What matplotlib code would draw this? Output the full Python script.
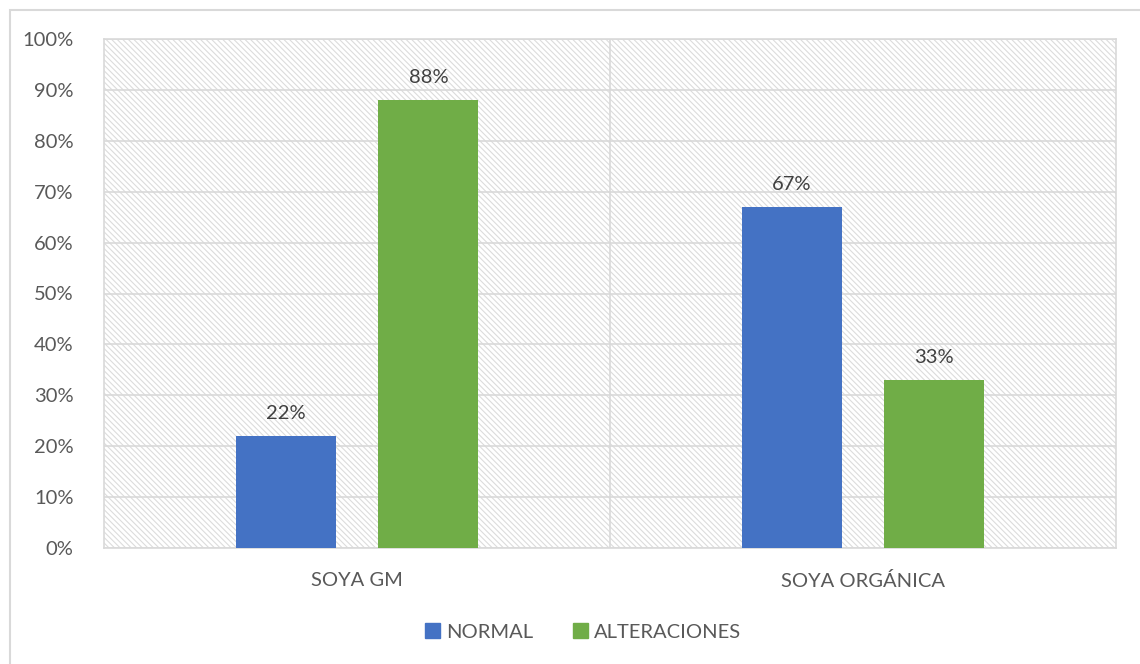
import matplotlib
matplotlib.use("Agg")
import matplotlib.pyplot as plt
from matplotlib.patches import Rectangle, Patch
import numpy as np

categories = ["SOYA GM", "SOYA ORGÁNICA"]
normal = [22, 67]
alteraciones = [88, 33]
yticks = [0, 10, 20, 30, 40, 50, 60, 70, 80, 90, 100]

TEXT = "#595959"
LABEL = "#404040"
GRID = "#d9d9d9"
BLUE = "#4472C4"
GREEN = "#70AD47"

plt.rcParams["font.family"] = ["Lato", "DejaVu Sans"]
plt.rcParams["hatch.linewidth"] = 0.8

fig = plt.figure(figsize=(11.4, 6.64), dpi=100)
ax = fig.add_axes([104 / 1140, 1 - 548 / 664, (1116 - 104) / 1140, (548 - 39) / 664])

# outer chart border
fig.patches.append(Rectangle((10 / 1140, -0.1), 1.2, 1 - 10 / 664 + 0.1,
                             transform=fig.transFigure, fill=False,
                             edgecolor=GRID, linewidth=1.5, zorder=0))

# hatched plot-area background
ax.add_patch(Rectangle((0, 0), 1, 1, transform=ax.transAxes, fill=False,
                       hatch="\\\\\\\\\\\\", edgecolor="#dcdcdc", linewidth=0, zorder=0))

x = np.arange(len(categories))
w = 0.198
off = 0.141
ax.bar(x - off, normal, w, color=BLUE, zorder=3, label="NORMAL")
ax.bar(x + off, alteraciones, w, color=GREEN, zorder=3, label="ALTERACIONES")

for xi, v in zip(x - off, normal):
    ax.text(xi, v + 2.7, f"{v}%", ha="center", va="bottom", fontsize=14.5, color=LABEL)
for xi, v in zip(x + off, alteraciones):
    ax.text(xi, v + 2.7, f"{v}%", ha="center", va="bottom", fontsize=14.5, color=LABEL)

ax.set_xlim(-0.5, 1.5)
ax.set_ylim(0, 100)
ax.set_yticks(yticks)
ax.set_yticklabels([f"{t}%" for t in yticks])
ax.set_xticks(x)
ax.set_xticklabels(categories)
ax.tick_params(axis="both", length=0, labelsize=14.5, colors=TEXT)
ax.tick_params(axis="y", pad=22)
ax.tick_params(axis="x", pad=17)

ax.grid(axis="y", color=GRID, linewidth=1.2, zorder=1)
ax.axvline(0.5, color=GRID, linewidth=1.2, zorder=1)
for s in ax.spines.values():
    s.set_color(GRID)
    s.set_linewidth(1.2)

handles = [Patch(color=BLUE, label="NORMAL"), Patch(color=GREEN, label="ALTERACIONES")]
fig.legend(handles=handles, loc="center", bbox_to_anchor=(583 / 1140, 1 - 632 / 664),
           ncol=2, frameon=False, fontsize=14.5, labelcolor=TEXT,
           handlelength=0.75, handleheight=0.75, handletextpad=0.3, columnspacing=2.0)

fig.savefig("out.png", dpi=100)
